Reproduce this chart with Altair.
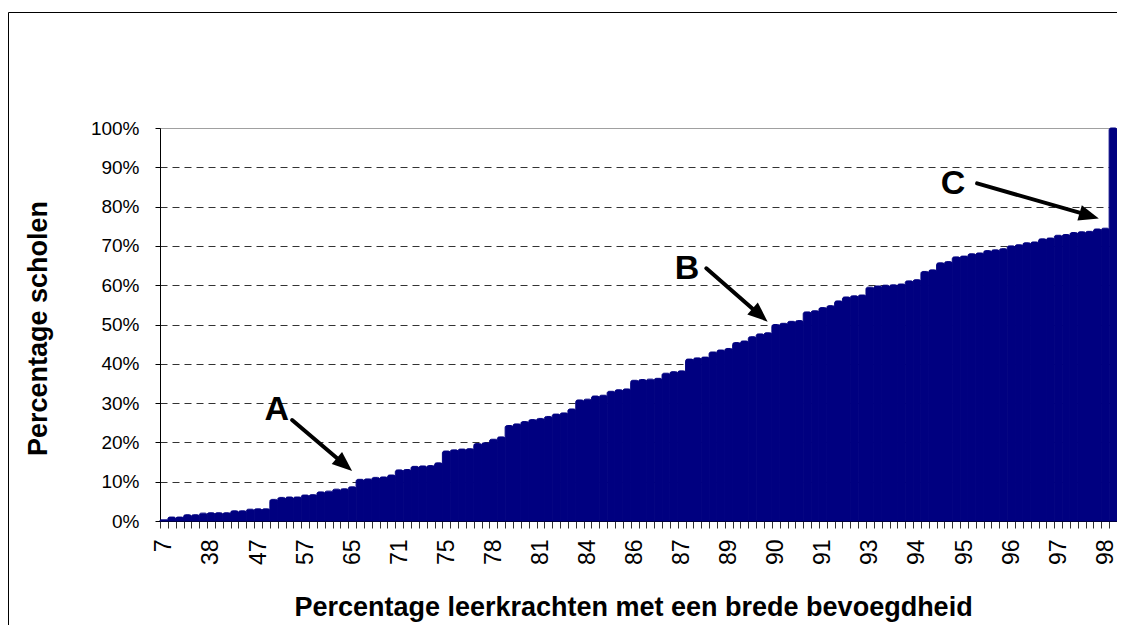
import json
import altair as alt
import pandas as pd

# cumulative percentage of schools per category (one bar per category)
pct_scholen = [
    0.3, 1.0, 1.0, 1.6, 1.6, 2.0, 2.1, 2.1, 2.1, 2.6,
    2.6, 3.0, 3.1, 3.1, 5.5, 6.0, 6.1, 6.1, 6.6, 6.7,
    7.4, 7.6, 8.1, 8.2, 8.7, 10.6, 10.7, 11.1, 11.2, 11.7,
    13.0, 13.1, 13.9, 14.0, 14.1, 14.8, 17.8, 18.1, 18.3, 18.4,
    19.7, 19.9, 20.8, 21.4, 24.3, 24.7, 25.3, 25.8, 26.1, 26.6,
    27.2, 27.5, 28.5, 30.8, 31.0, 31.8, 32.0, 33.0, 33.4, 33.6,
    35.8, 36.0, 36.1, 36.3, 37.6, 38.0, 38.2, 41.2, 41.5, 41.7,
    43.0, 43.5, 43.9, 45.4, 45.8, 46.9, 47.6, 47.9, 50.0, 50.3,
    50.8, 51.0, 53.2, 53.5, 54.3, 54.8, 56.0, 57.0, 57.3, 57.5,
    59.5, 59.8, 60.0, 60.1, 60.3, 61.1, 61.4, 63.5, 63.9, 65.7,
    66.0, 67.2, 67.4, 68.0, 68.2, 68.8, 69.0, 69.3, 70.0, 70.3,
    70.8, 71.0, 71.8, 72.0, 72.7, 72.9, 73.4, 73.6, 73.7, 74.3,
    74.5, 100.0,
]

# category labels shown on the x axis (every 6th category)
x_tick_labels = ["7", "38", "47", "57", "65", "71", "75", "78", "81", "84", "86",
                 "87", "89", "90", "91", "93", "94", "95", "96", "97", "98"]
label_step = 6

y_ticks = [round(i / 10, 1) for i in range(11)]

# annotations (x in category units, y as fraction)
ann_letters = ["A", "B", "C"]
ann_text_x = [14.9, 67.2, 101.1]
ann_text_y = [0.282, 0.642, 0.858]
arrow_x_start = [16.84, 69.64, 104.17]
arrow_y_start = [0.257, 0.643, 0.859]
arrow_x_end = [23.33, 76.31, 118.21]
arrow_y_end = [0.147, 0.527, 0.779]
head_x = [23.52, 76.50, 118.46]
head_y = [0.1438, 0.524, 0.777]
head_angle = [130.4, 131.05, 106.06]

n = len(pct_scholen)
df = pd.DataFrame({"idx": list(range(n)), "pct": [v / 100 for v in pct_scholen]})
ann = pd.DataFrame({"letter": ann_letters, "tx": ann_text_x, "ty": ann_text_y,
                    "x1": arrow_x_start, "y1": arrow_y_start,
                    "x2": arrow_x_end, "y2": arrow_y_end,
                    "hx": head_x, "hy": head_y, "ang": head_angle})

FONT = "Liberation Sans"
label_expr = ("(datum.value % {s} == 0 && datum.value / {s} < {k}) ? {arr}[datum.value / {s}] : ''"
              .format(s=label_step, k=len(x_tick_labels), arr=json.dumps(x_tick_labels)))

yscale = alt.Scale(domain=[0, 1], nice=False)
uscale = alt.Scale(domain=[0, n], nice=False, zero=False)

bars = alt.Chart(df).mark_bar(
    color="#000080", stroke="#000080", strokeWidth=1,
    cornerRadiusTopLeft=2, cornerRadiusTopRight=2
).encode(
    x=alt.X("idx:O", sort=None,
            scale=alt.Scale(paddingInner=0, paddingOuter=0),
            axis=alt.Axis(
                title="Percentage leerkrachten met een brede bevoegdheid",
                labelExpr=label_expr, labelAngle=270, labelOverlap=False,
                labelFont=FONT, labelFontSize=23, labelColor="black", labelPadding=11,
                tickBand="extent", tickSize=7, tickColor="#333", domainColor="black",
                titleFont=FONT, titleFontSize=27, titleFontWeight="bold", titleColor="black",
                titleBaseline="middle", titleX=473, titleY=86, grid=False)),
    y=alt.Y("pct:Q", scale=yscale,
            axis=alt.Axis(
                title="Percentage scholen", values=y_ticks, format=".0%",
                labelFont=FONT, labelFontSize=19, labelColor="black", labelPadding=16,
                tickSize=5, tickColor="black", domainColor="black",
                titleFont=FONT, titleFontSize=27, titleFontWeight="bold", titleColor="black",
                titleBaseline="middle", titleAlign="center", titleX=-122, titleY=200,
                grid=True,
                gridColor={"condition": {"test": "datum.value >= 1", "value": "#a0a0a0"}, "value": "#333333"},
                gridDash={"condition": {"test": "datum.value >= 1", "value": []}, "value": [7, 5]},
            )),
)

arrows = alt.Chart(ann).mark_rule(color="black", strokeWidth=4, strokeCap="round").encode(
    x=alt.X("x1:Q", scale=uscale, axis=None), x2="x2:Q",
    y=alt.Y("y1:Q", scale=yscale, axis=None), y2="y2:Q",
)

heads = alt.Chart(ann).mark_point(
    shape="M0,-1L0.8,1L-0.8,1Z", filled=True, color="black", opacity=1, size=400
).encode(
    x=alt.X("hx:Q", scale=uscale, axis=None),
    y=alt.Y("hy:Q", scale=yscale, axis=None),
    angle=alt.Angle("ang:Q", scale=None),
)

letters = alt.Chart(ann).mark_text(
    font=FONT, fontSize=34, fontWeight="bold", color="black", baseline="middle", align="center"
).encode(
    x=alt.X("tx:Q", scale=uscale, axis=None),
    y=alt.Y("ty:Q", scale=yscale, axis=None),
    text="letter:N",
)

# outer chart frame (top and left edges; right and bottom lie outside the picture)
frame_df = pd.DataFrame({"f": [0]})
frame_top = alt.Chart(frame_df).mark_rule(color="black", strokeWidth=1).encode(
    x=alt.value(-151.5), x2=alt.value(957), y=alt.value(-115.5)
)
frame_left = alt.Chart(frame_df).mark_rule(color="black", strokeWidth=1).encode(
    x=alt.value(-151.5), y=alt.value(-115.5), y2=alt.value(497)
)

chart = alt.layer(bars, arrows, heads, letters, frame_top, frame_left).resolve_scale(
    x="independent"
).resolve_axis(
    x="independent", y="independent"
).properties(
    width=957, height=393,
    autosize=alt.AutoSizeParams(type="none"),
    padding={"left": 152, "top": 120, "right": 0, "bottom": 104},
    background="white",
).configure_view(stroke="#a0a0a0", strokeWidth=1)

chart.save("out.html", embed_options={"renderer": "svg", "actions": False})
